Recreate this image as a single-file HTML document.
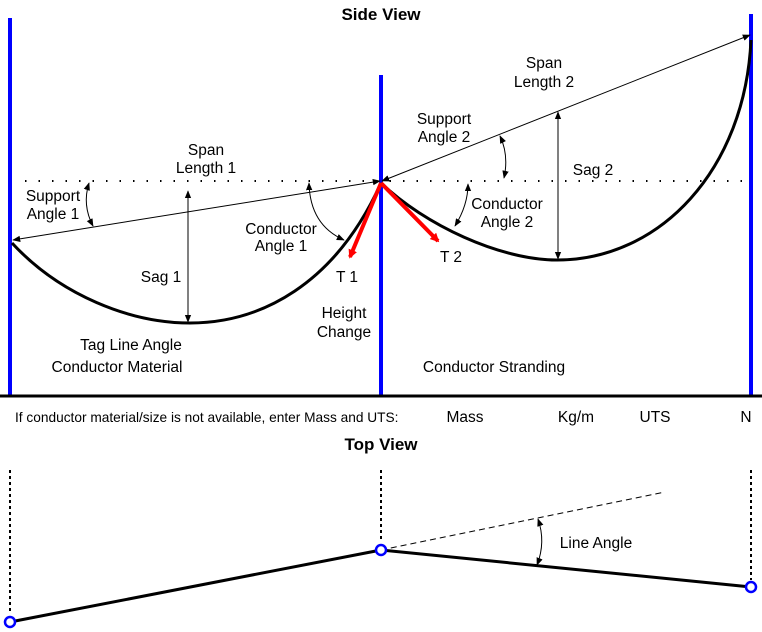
<!DOCTYPE html>
<html><head><meta charset="utf-8"><style>
html,body{margin:0;padding:0;background:#fff;}
svg{display:block;font-family:"Liberation Sans",Arial,sans-serif;}
</style></head><body>
<svg width="762" height="632" viewBox="0 0 762 632" xmlns="http://www.w3.org/2000/svg">
<defs>
<marker id="a" viewBox="0 0 10 10" refX="9" refY="5" markerWidth="8" markerHeight="8" orient="auto-start-reverse" markerUnits="userSpaceOnUse"><path d="M0,1 L10,5 L0,9 z" fill="#000"/></marker>
<marker id="r" viewBox="0 0 10 10" refX="8" refY="5" markerWidth="9" markerHeight="9" orient="auto" markerUnits="userSpaceOnUse"><path d="M0,0 L10,5 L0,10 z" fill="#f00"/></marker>
</defs>
<text x="381" y="20" font-size="17" font-weight="bold" text-anchor="middle">Side View</text>
<line x1="25" y1="181" x2="752" y2="181" stroke="#000" stroke-width="2" stroke-dasharray="1.5 12"/>
<line x1="10" y1="18" x2="10" y2="396" stroke="#00f" stroke-width="4"/>
<line x1="381" y1="75" x2="381" y2="396" stroke="#00f" stroke-width="4"/>
<line x1="751" y1="14" x2="751" y2="396" stroke="#00f" stroke-width="4"/>
<line x1="0" y1="396" x2="762" y2="396" stroke="#000" stroke-width="3"/>
<line x1="13" y1="240" x2="380" y2="181" stroke="#000" stroke-width="1" marker-start="url(#a)" marker-end="url(#a)"/>
<line x1="382" y1="181" x2="750" y2="35" stroke="#000" stroke-width="1" marker-start="url(#a)" marker-end="url(#a)"/>
<path d="M12,243 C60,295 130,323 190,323 C260,323 335,285 381,183" fill="none" stroke="#000" stroke-width="3"/>
<path d="M381,183 C425,225 500,260 557,260 C660,260 745,170 751,40" fill="none" stroke="#000" stroke-width="3"/>
<line x1="188" y1="191" x2="188" y2="322" stroke="#000" stroke-width="1" marker-start="url(#a)" marker-end="url(#a)"/>
<line x1="558" y1="112" x2="558" y2="259" stroke="#000" stroke-width="1" marker-start="url(#a)" marker-end="url(#a)"/>
<path d="M89,183 Q82,205 93,226" fill="none" stroke="#000" marker-start="url(#a)" marker-end="url(#a)"/>
<path d="M309,183 Q310,225 344,240" fill="none" stroke="#000" marker-start="url(#a)" marker-end="url(#a)"/>
<path d="M500,136 Q509,155 504,178" fill="none" stroke="#000" marker-start="url(#a)" marker-end="url(#a)"/>
<path d="M468,184 Q468,205 455,226" fill="none" stroke="#000" marker-start="url(#a)" marker-end="url(#a)"/>
<line x1="381" y1="183" x2="350" y2="257" stroke="#f00" stroke-width="4" marker-end="url(#r)"/>
<line x1="381" y1="183" x2="438" y2="241" stroke="#f00" stroke-width="4" marker-end="url(#r)"/>
<g font-size="15.5" text-anchor="middle">
<text x="206" y="155">Span</text><text x="206" y="173">Length 1</text>
<text x="53" y="201">Support</text><text x="53" y="219">Angle 1</text>
<text x="281" y="234">Conductor</text><text x="281" y="251">Angle 1</text>
<text x="161" y="282">Sag 1</text>
<text x="347" y="282">T 1</text>
<text x="344" y="318">Height</text><text x="344" y="337">Change</text>
<text x="131" y="350">Tag Line Angle</text>
<text x="117" y="372">Conductor Material</text>
<text x="544" y="68">Span</text><text x="544" y="87">Length 2</text>
<text x="444" y="124">Support</text><text x="444" y="142">Angle 2</text>
<text x="593" y="175">Sag 2</text>
<text x="507" y="209">Conductor</text><text x="507" y="227">Angle 2</text>
<text x="451" y="262">T 2</text>
<text x="494" y="372">Conductor Stranding</text>
<text x="465" y="422">Mass</text>
<text x="576" y="422">Kg/m</text>
<text x="655" y="422">UTS</text>
<text x="746" y="422">N</text>
<text x="596" y="548">Line Angle</text>
</g>
<text x="15" y="422" font-size="13.7">If conductor material/size is not available, enter Mass and UTS:</text>
<text x="381" y="450" font-size="17" font-weight="bold" text-anchor="middle">Top View</text>
<g stroke="#000" stroke-width="2" stroke-dasharray="3 3">
<line x1="10" y1="470" x2="10" y2="612"/>
<line x1="381" y1="470" x2="381" y2="542"/>
<line x1="751" y1="470" x2="751" y2="580"/>
</g>
<line x1="381" y1="550" x2="665" y2="492" stroke="#000" stroke-width="1" stroke-dasharray="6 4"/>
<line x1="10" y1="622" x2="381" y2="550" stroke="#000" stroke-width="3"/>
<line x1="381" y1="550" x2="751" y2="587" stroke="#000" stroke-width="3"/>
<path d="M538,519 Q546,542 537,565" fill="none" stroke="#000" marker-start="url(#a)" marker-end="url(#a)"/>
<g fill="#fff" stroke="#00f" stroke-width="2.5">
<circle cx="10" cy="622" r="5"/><circle cx="381" cy="550" r="5"/><circle cx="751" cy="587" r="5"/>
</g>
</svg>
</body></html>
